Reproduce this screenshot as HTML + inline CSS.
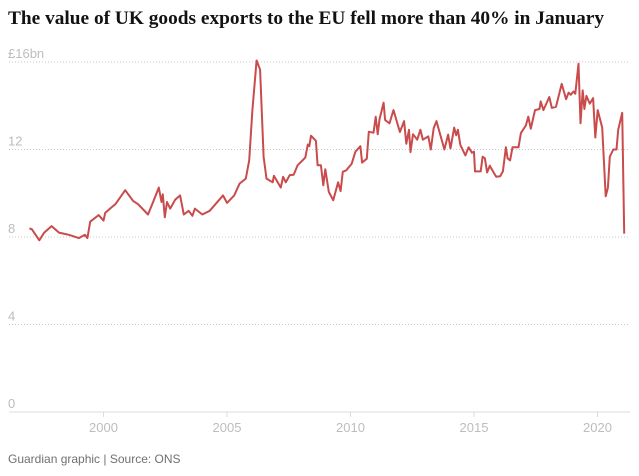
<!DOCTYPE html>
<html><head><meta charset="utf-8"><style>
body{margin:0;background:#fff;width:639px;height:471px;overflow:hidden;font-family:"Liberation Sans",sans-serif}
</style></head><body>
<svg width="639" height="471">
<text x="8" y="24" font-family="Liberation Serif, serif" font-weight="bold" font-size="19" textLength="596" lengthAdjust="spacingAndGlyphs" fill="#121212">The value of UK goods exports to the EU fell more than 40% in January</text>
<g id="grid"></g>
<g id="xax"></g>
<path id="line" fill="none" stroke="#c94b4b" stroke-width="2" stroke-linejoin="round"/>
<text x="8" y="463" font-size="12" fill="#707070">Guardian graphic | Source: ONS</text>
</svg>
<script>
const years=[1997.0,1997.1,1997.4,1997.6,1997.9,1998.2,1998.6,1999.0,1999.25,1999.35,1999.46,1999.8,2000.0,2000.07,2000.34,2000.48,2000.88,2001.2,2001.4,2001.8,2001.97,2002.24,2002.35,2002.4,2002.48,2002.57,2002.7,2002.9,2003.1,2003.25,2003.45,2003.6,2003.7,2004.0,2004.3,2004.67,2004.84,2005.0,2005.29,2005.51,2005.76,2005.9,2006.03,2006.2,2006.34,2006.48,2006.6,2006.85,2006.9,2007.18,2007.27,2007.38,2007.54,2007.7,2007.86,2008.17,2008.27,2008.33,2008.4,2008.6,2008.67,2008.8,2008.9,2008.98,2009.12,2009.3,2009.5,2009.6,2009.69,2009.83,2010.05,2010.2,2010.4,2010.47,2010.66,2010.74,2010.93,2011.02,2011.1,2011.18,2011.34,2011.4,2011.58,2011.74,2011.87,2012.0,2012.17,2012.26,2012.37,2012.43,2012.53,2012.7,2012.83,2012.93,2013.15,2013.25,2013.37,2013.48,2013.65,2013.8,2013.95,2014.05,2014.2,2014.28,2014.35,2014.45,2014.65,2014.78,2014.92,2015.0,2015.04,2015.27,2015.35,2015.44,2015.53,2015.64,2015.77,2015.9,2016.06,2016.17,2016.29,2016.36,2016.46,2016.56,2016.8,2016.9,2017.1,2017.2,2017.3,2017.47,2017.65,2017.7,2017.81,2018.05,2018.15,2018.32,2018.55,2018.73,2018.83,2018.92,2019.03,2019.1,2019.23,2019.31,2019.4,2019.47,2019.55,2019.69,2019.82,2019.91,2020.01,2020.19,2020.33,2020.42,2020.5,2020.64,2020.77,2020.84,2021.0,2021.08];
const values=[8.4,8.35,7.85,8.2,8.5,8.2,8.1,7.95,8.1,7.95,8.7,9.0,8.75,9.1,9.37,9.5,10.14,9.65,9.5,9.03,9.5,10.26,9.6,9.95,8.9,9.6,9.3,9.7,9.9,9.03,9.2,8.97,9.3,9.03,9.2,9.68,9.9,9.56,9.9,10.44,10.67,11.5,13.8,16.07,15.65,11.67,10.67,10.5,10.8,10.26,10.75,10.5,10.83,10.85,11.28,11.63,12.23,12.15,12.63,12.4,11.28,11.28,10.37,11.1,10.06,9.68,10.5,10.1,10.98,11.05,11.35,11.9,12.15,11.4,11.58,12.81,12.77,13.5,12.7,13.4,14.14,13.35,13.2,13.8,13.3,12.8,13.3,12.26,12.9,11.88,12.7,12.45,12.9,12.45,12.6,12.0,12.98,13.3,12.6,12.0,12.68,12.05,13.0,12.65,12.9,12.2,11.73,12.1,11.85,11.9,11.0,11.0,11.67,11.6,10.95,11.26,11.0,10.75,10.78,11.0,12.1,11.6,11.5,12.1,12.1,12.75,13.1,13.5,12.95,13.8,13.85,14.2,13.8,14.4,13.9,13.95,15.0,14.3,14.6,14.5,14.65,14.55,15.92,13.2,14.7,13.85,14.45,14.1,14.35,12.55,13.8,13.0,9.86,10.25,11.67,12.0,12.0,12.9,13.68,8.15];
const yTicks=[0,4,8,12,16];
const yLabels=["0","4","8","12","£16bn"];
const xTicks=[2000,2005,2010,2015,2020];
const NS="http://www.w3.org/2000/svg";
function xs(y){return 103.5+(y-2000)*24.7;}
function ys(v){return 412-v*21.875;}
const grid=document.getElementById('grid');
yTicks.forEach((t,i)=>{
  if(t>0){
    const l=document.createElementNS(NS,'line');
    
    
    l.setAttribute('x1',9);l.setAttribute('x2',630);l.setAttribute('y1',ys(t));l.setAttribute('y2',ys(t));
    l.setAttribute('stroke','#c8c8c8');l.setAttribute('stroke-dasharray','1,2');
    grid.appendChild(l);
  }
  const tx=document.createElementNS(NS,'text');
  
  
  tx.setAttribute('x',8);tx.setAttribute('y',ys(t)-4);
  tx.setAttribute('font-size','13');tx.setAttribute('fill','#bdbdbd');
  tx.textContent=yLabels[i];grid.appendChild(tx);
});
const xax=document.getElementById('xax');
const base=document.createElementNS(NS,'line');


base.setAttribute('x1',9);base.setAttribute('x2',630);base.setAttribute('y1',412);base.setAttribute('y2',412);
base.setAttribute('stroke','#dcdcdc');xax.appendChild(base);
xTicks.forEach(t=>{
  const l=document.createElementNS(NS,'line');
  
  
  l.setAttribute('x1',xs(t));l.setAttribute('x2',xs(t));l.setAttribute('y1',412);l.setAttribute('y2',417);
  l.setAttribute('stroke','#dcdcdc');xax.appendChild(l);
  const tx=document.createElementNS(NS,'text');
  
  
  tx.setAttribute('x',xs(t));tx.setAttribute('y',432);tx.setAttribute('text-anchor','middle');
  tx.setAttribute('font-size','13');tx.setAttribute('fill','#bdbdbd');
  tx.textContent=t;xax.appendChild(tx);
});
document.getElementById('line').setAttribute('d',years.map((y,i)=>(i?'L':'M')+xs(y).toFixed(1)+','+ys(values[i]).toFixed(1)).join(''));
</script>
</body></html>
